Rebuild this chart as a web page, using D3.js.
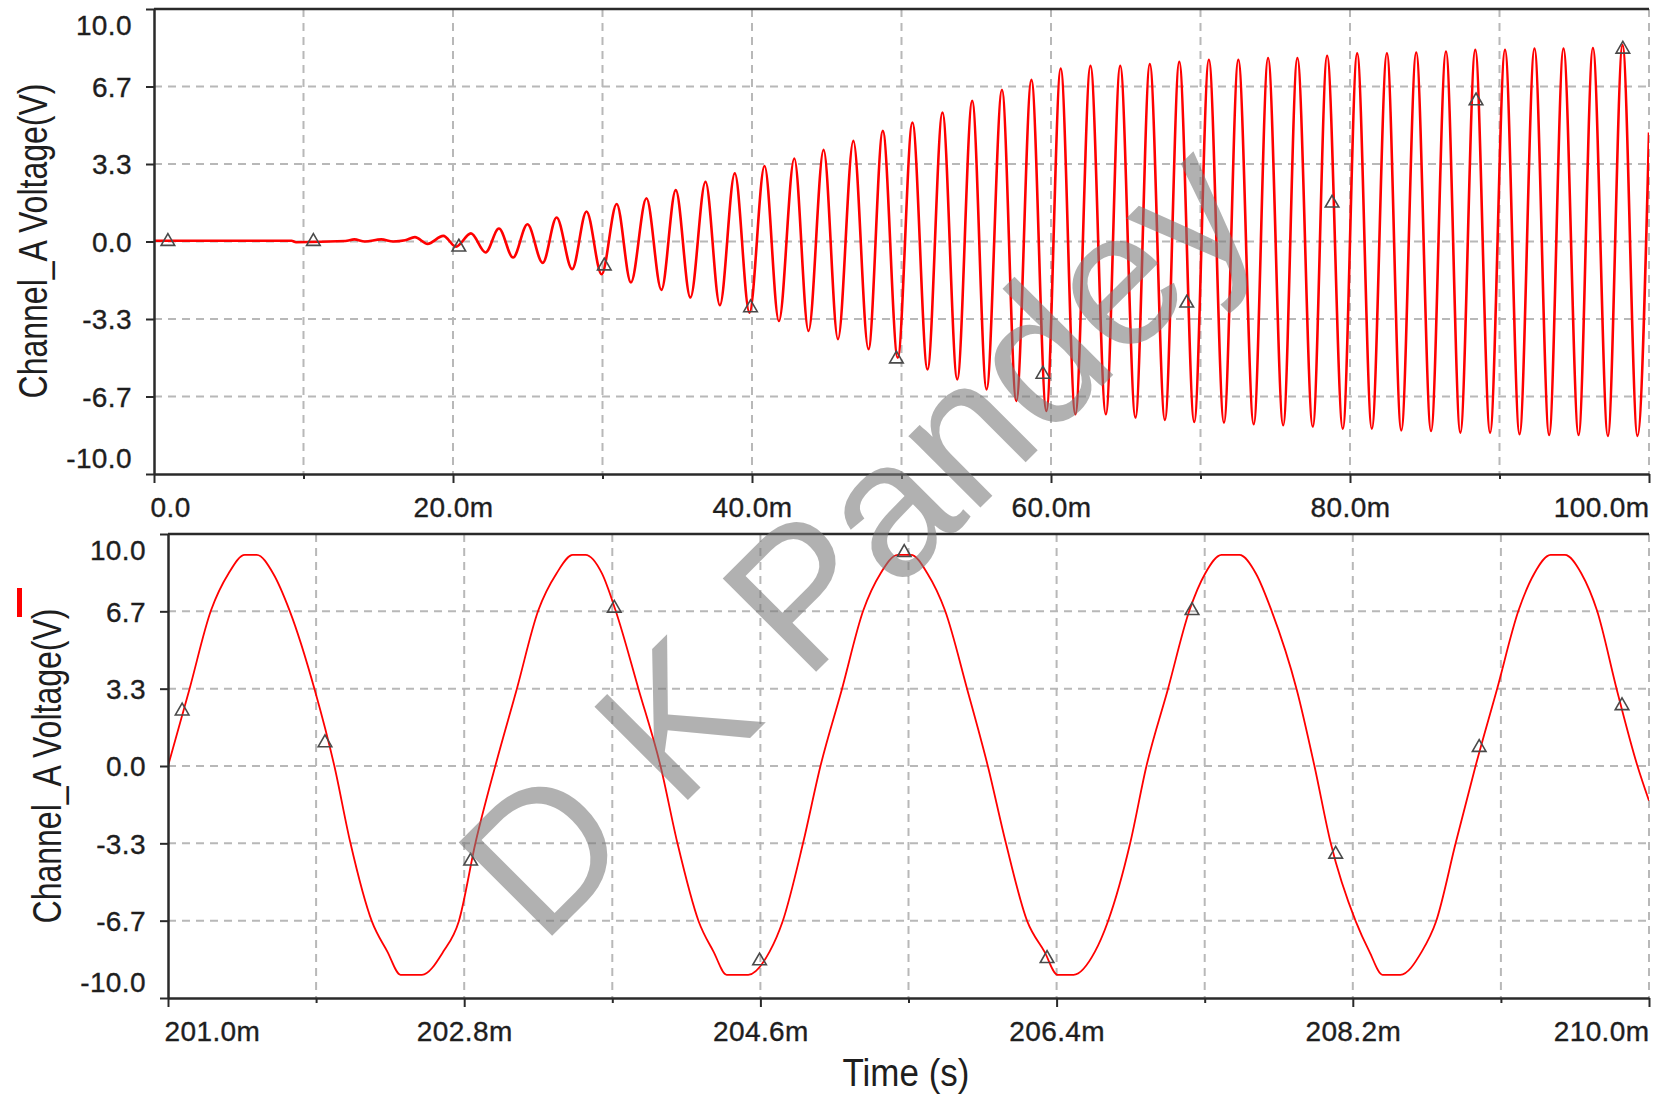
<!DOCTYPE html>
<html>
<head>
<meta charset="utf-8">
<script src="https://cdn.jsdelivr.net/npm/d3@7"></script>
<style>
  html, body { margin: 0; padding: 0; background: #fff; }
  svg { display: block; font-family: "Liberation Sans", Arial, sans-serif; }
</style>
</head>
<body>
<div id="chart"></div>
<script>
// ---------------------------------------------------------------
// Values (times in ms, volts in V)
// ---------------------------------------------------------------

// Top trace: oscillator start-up, 0 .. 100 ms (peaks / troughs)
const startupTime = [
  0.0, 9.2, 9.5, 12.8, 13.4, 14.1, 15.2, 16.0, 16.8,
  17.45, 18.3, 19.35, 20.2, 21.2, 22.18, 23.07, 24.02, 24.98, 26.0,
  26.93, 27.97, 28.93, 29.94, 30.95, 31.9, 32.94, 33.94, 34.9, 35.88,
  36.89, 37.85, 38.85, 39.83, 40.84, 41.8, 42.83, 43.78, 44.79, 45.75,
  46.78, 47.79, 48.75, 49.75, 50.73, 51.74, 52.74, 53.73, 54.73, 55.69,
  56.72, 57.68, 58.69, 59.69, 60.65, 61.63, 62.64, 63.67, 64.63, 65.65,
  66.61, 67.62, 68.58, 69.58, 70.56, 71.57, 72.53, 73.56, 74.52, 75.53,
  76.48, 77.51, 78.47, 79.52, 80.48, 81.46, 82.47, 83.43, 84.43, 85.42,
  86.42, 87.38, 88.38, 89.37, 90.37, 91.34, 92.34, 93.32, 94.28, 95.29,
  96.25, 97.25, 98.23, 99.23, 100.0
];
const startupVolt = [
  0.03, 0.03, -0.03, 0.02, 0.09, 0.0, 0.09, 0.0, 0.05,
  0.19, -0.10, 0.24, -0.22, 0.35, -0.47, 0.56, -0.69, 0.74, -0.92,
  1.03, -1.19, 1.29, -1.41, 1.61, -1.76, 1.86, -2.08, 2.21, -2.41,
  2.57, -2.74, 2.93, -3.06, 3.25, -3.42, 3.57, -3.85, 3.94, -4.20,
  4.33, -4.63, 4.76, -5.00, 5.12, -5.50, 5.55, -5.93, 6.05, -6.36,
  6.52, -6.86, 6.95, -7.29, 7.44, -7.43, 7.56, -7.43, 7.56, -7.57,
  7.63, -7.67, 7.73, -7.76, 7.82, -7.79, 7.82, -7.86, 7.89, -7.90,
  7.89, -7.96, 7.99, -8.05, 8.09, -8.05, 8.10, -8.12, 8.13, -8.15,
  8.17, -8.22, 8.24, -8.22, 8.24, -8.29, 8.30, -8.32, 8.30, -8.32,
  8.32, -8.36, 8.45, -8.36, 4.69
];
const startupMarkTime = [0.93, 10.66, 20.39, 30.12, 39.9, 49.66, 59.46, 69.08, 78.8, 88.43, 98.25];
const startupMarkVolt = [0.0, 0.0, -0.24, -1.05, -2.85, -5.05, -5.71, -2.65, 1.65, 6.05, 8.27];
const startupTicks = [0, 10, 20, 30, 40, 50, 60, 70, 80, 90, 100];
const startupTickLabels = ["0.0", "", "20.0m", "", "40.0m", "", "60.0m", "", "80.0m", "", "100.0m"];

// Bottom trace: steady state, 201 .. 210 ms (gridline crossings, shoulders, clipped tops)
const steadyTime = [
  201.000, 201.130, 201.261, 201.368, 201.467, 201.539, 201.639, 201.739, 201.891,
  202.011, 202.108, 202.239, 202.333, 202.413, 202.543, 202.673, 202.767, 202.869,
  202.989, 203.119, 203.250, 203.361, 203.460, 203.537, 203.637, 203.720, 203.860,
  203.993, 204.095, 204.225, 204.315, 204.395, 204.526, 204.656, 204.735, 204.860,
  204.965, 205.095, 205.225, 205.330, 205.435, 205.515, 205.615, 205.722, 205.857,
  205.982, 206.091, 206.222, 206.326, 206.406, 206.503, 206.633, 206.712, 206.848,
  206.946, 207.076, 207.207, 207.303, 207.402, 207.511, 207.611, 207.706, 207.859,
  207.967, 208.065, 208.218, 208.301, 208.381, 208.489, 208.619, 208.706, 208.826,
  208.946, 209.076, 209.207, 209.303, 209.402, 209.489, 209.589, 209.684, 209.804,
  209.930, 210.000
];
const steadyVolt = [
  0.0, 3.3, 6.7, 8.3, 9.1, 9.1, 8.3, 6.7, 3.3,
  0.0, -3.3, -6.7, -8.0, -9.0, -9.0, -8.0, -6.7, -3.3,
  0.0, 3.3, 6.7, 8.3, 9.1, 9.1, 8.3, 6.7, 3.3,
  0.0, -3.3, -6.7, -8.0, -9.0, -9.0, -8.0, -6.7, -3.3,
  0.0, 3.3, 6.7, 8.3, 9.1, 9.1, 8.3, 6.7, 3.3,
  0.0, -3.3, -6.7, -8.0, -9.0, -9.0, -8.0, -6.7, -3.3,
  0.0, 3.3, 6.7, 8.3, 9.1, 9.1, 8.3, 6.7, 3.3,
  0.0, -3.3, -6.7, -8.0, -9.0, -9.0, -8.0, -6.7, -3.3,
  0.0, 3.3, 6.7, 8.3, 9.1, 9.1, 8.3, 6.7, 3.3,
  0.0, -1.5
];
const steadyMarkTime = [201.086, 201.954, 202.839, 203.712, 204.595, 205.474, 206.342, 207.223, 208.096, 208.968, 209.836];
const steadyMarkVolt = [2.37, 1.0, -4.1, 6.8, -8.4, 9.2, -8.3, 6.7, -3.8, 0.8, 2.6];
const steadyTicks = [201.0, 201.9, 202.8, 203.7, 204.6, 205.5, 206.4, 207.3, 208.2, 209.1, 210.0];
const steadyTickLabels = ["201.0m", "", "202.8m", "", "204.6m", "", "206.4m", "", "208.2m", "", "210.0m"];

// Shared voltage axis
const voltTicks = [10, 6.667, 3.333, 0, -3.333, -6.667, -10];
const voltTickLabels = ["10.0", "6.7", "3.3", "0.0", "-3.3", "-6.7", "-10.0"];

const yTitle = "Channel_A Voltage(V)";
const xTitle = "Time (s)";
const watermark = "D K Pandey";

// ---------------------------------------------------------------
const W = 1664, H = 1095;
const axisColor = "#2a2a2a";
const gridColor = "#b8b8b8";
const textColor = "#1e1e1e";
const traceColor = "#ff0000";

const svg = d3.select("#chart").append("svg")
  .attr("width", W)
  .attr("height", H);

svg.append("rect").attr("width", W).attr("height", H).attr("fill", "#fff");

// Draw one scope panel
function drawPanel(p) {
  const x = d3.scaleLinear().domain(p.xDomain).range([p.left, p.right]);
  const y = d3.scaleLinear().domain([-10, 10]).range([p.bottom, p.top]);
  const g = svg.append("g");

  // dashed grid
  const grid = g.append("g")
    .attr("stroke", gridColor)
    .attr("stroke-width", 2)
    .attr("stroke-dasharray", "8,6");
  grid.selectAll("line.h")
    .data(voltTicks.filter(v => v > -10 && v < 10))
    .join("line")
    .attr("class", "h")
    .attr("x1", p.left).attr("x2", p.right)
    .attr("y1", d => y(d)).attr("y2", d => y(d));
  grid.selectAll("line.v")
    .data(p.ticks.slice(1))
    .join("line")
    .attr("class", "v")
    .attr("x1", d => x(d)).attr("x2", d => x(d))
    .attr("y1", p.top).attr("y2", p.bottom);

  // trace
  const clipId = "clip" + p.id;
  svg.append("clipPath").attr("id", clipId)
    .append("rect")
    .attr("x", p.left).attr("y", p.top - 4)
    .attr("width", p.right - p.left).attr("height", p.bottom - p.top + 8);

  const line = d3.line()
    .x(i => x(p.time[i]))
    .y(i => y(p.volt[i]))
    .curve(d3.curveMonotoneX);

  g.append("path")
    .attr("clip-path", `url(#${clipId})`)
    .attr("d", line(d3.range(p.time.length)))
    .attr("fill", "none")
    .attr("stroke", traceColor)
    .attr("stroke-width", p.lineWidth);

  // triangle markers
  const tri = d3.symbol().type(d3.symbolTriangle).size(80);
  g.selectAll("path.mark")
    .data(d3.range(p.markTime.length))
    .join("path")
    .attr("class", "mark")
    .attr("d", tri)
    .attr("transform", i => `translate(${x(p.markTime[i])},${y(p.markVolt[i])})`)
    .attr("fill", "none")
    .attr("stroke", "#4a4a4a")
    .attr("stroke-width", 1.6);

  // top border
  g.append("line")
    .attr("x1", p.left).attr("x2", p.right)
    .attr("y1", p.top).attr("y2", p.top)
    .attr("stroke", axisColor).attr("stroke-width", 2.5);

  // x axis
  const xAxis = d3.axisBottom(x)
    .tickValues(p.ticks)
    .tickFormat((d, i) => p.labels[i])
    .tickSizeOuter(0);
  const xg = g.append("g")
    .attr("transform", `translate(0,${p.bottom})`)
    .call(xAxis);
  xg.select(".domain").attr("stroke", axisColor).attr("stroke-width", 2.5);
  xg.selectAll(".tick line")
    .attr("stroke", axisColor).attr("stroke-width", 2)
    .attr("y2", (d, i) => p.labels[i] ? 9 : 5);
  xg.selectAll(".tick text")
    .attr("y", p.labelY - p.bottom)
    .attr("dy", "0.35em")
    .attr("fill", textColor)
    .attr("stroke", textColor)
    .attr("stroke-width", 0.35)
    .style("font-size", "28px")
    .style("letter-spacing", "0.4px")
    .attr("text-anchor", (d, i) => i === 0 ? "start" : (i === p.ticks.length - 1 ? "end" : "middle"))
    .attr("dx", (d, i) => i === 0 ? -4 : 0);

  // y axis
  const yAxis = d3.axisLeft(y)
    .tickValues(voltTicks)
    .tickFormat((d, i) => voltTickLabels[i])
    .tickSize(8)
    .tickSizeOuter(0);
  const yg = g.append("g")
    .attr("transform", `translate(${p.left},0)`)
    .call(yAxis);
  yg.select(".domain").attr("stroke", axisColor).attr("stroke-width", 2.5);
  yg.selectAll(".tick line").attr("stroke", axisColor).attr("stroke-width", 2);
  yg.selectAll(".tick text")
    .attr("x", -22)
    .attr("dy", "0.35em")
    .attr("fill", textColor)
    .attr("stroke", textColor)
    .attr("stroke-width", 0.35)
    .style("font-size", "28px")
    .style("letter-spacing", "0.4px")
    .attr("y", d => d === 10 ? 16 : (d === -10 ? -16 : 0));

  // y title: baseline sits at titleX, glyphs a little taller than the font
  g.append("text")
    .attr("transform", `translate(${p.titleX},${p.titleY}) rotate(-90) scale(1,1.25)`)
    .attr("text-anchor", "middle")
    .attr("fill", textColor)
    .style("font-size", "32px")
    .text(yTitle);
}

drawPanel({
  id: "top", left: 154, right: 1649, top: 9, bottom: 474, labelY: 507,
  xDomain: [0, 100], ticks: startupTicks, labels: startupTickLabels,
  time: startupTime, volt: startupVolt,
  markTime: startupMarkTime, markVolt: startupMarkVolt,
  titleX: 47, titleY: 241, lineWidth: 2.6
});

drawPanel({
  id: "bottom", left: 168, right: 1649, top: 534, bottom: 998, labelY: 1031,
  xDomain: [201, 210], ticks: steadyTicks, labels: steadyTickLabels,
  time: steadyTime, volt: steadyVolt,
  markTime: steadyMarkTime, markVolt: steadyMarkVolt,
  titleX: 61, titleY: 766, lineWidth: 1.8
});

// x title
svg.append("text")
  .attr("transform", "translate(906,1086) scale(1,1.1)")
  .attr("text-anchor", "middle")
  .attr("fill", textColor)
  .style("font-size", "35px")
  .text(xTitle);

// small red stub left of the lower panel
svg.append("rect")
  .attr("x", 17).attr("y", 588)
  .attr("width", 5).attr("height", 29)
  .attr("fill", traceColor);

// watermark over everything
svg.append("text")
  .attr("transform", "translate(541,947) rotate(-45)")
  .attr("fill", "#7a7a7a")
  .attr("opacity", 0.58)
  .style("font-size", "192px")
  .text(watermark);
</script>
</body>
</html>
